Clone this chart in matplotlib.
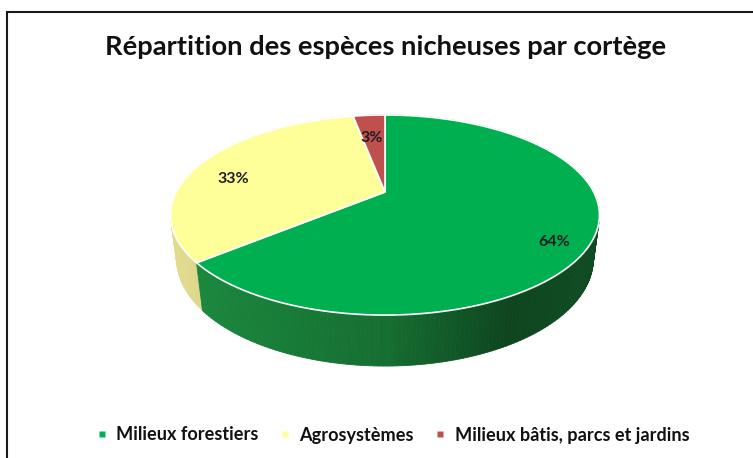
import numpy as np
import matplotlib
matplotlib.use('Agg')
import matplotlib.pyplot as plt
from matplotlib.patches import Polygon, Rectangle
from matplotlib.collections import PolyCollection
from matplotlib.lines import Line2D
from matplotlib.colors import to_rgb

# data
categories = ['Milieux forestiers', 'Agrosystèmes', 'Milieux bâtis, parcs et jardins']
values = [64, 33, 3]
pct_labels = ['64%', '33%', '3%']
top_colors = ['#00B050', '#FFFF99', '#C0504D']
side_colors = ['#1B8A3E', '#E2DC90', '#9E3E3B']
title = 'Répartition des espèces nicheuses par cortège'

# 3d view (excel-like perspective)
ELEV = np.radians(27)
DIST = 3.87
DEPTH = 0.237
SCALE = 208.7          # pixels per unit radius
CX, CY = 385, 192      # pie centre in pixels
W, H = 753, 458


def project(x, y, z):
    c, s = np.cos(ELEV), np.sin(ELEV)
    w = DIST + y * c - z * s
    return x * DIST / w, (y * s + z * c) * DIST / w


def arc(t0, t1, n=120):
    # angles clockwise from 12 o'clock, in degrees
    t = np.radians(np.linspace(t0, t1, n))
    return np.sin(t), np.cos(t)


fig = plt.figure(figsize=(W / 100, H / 100), dpi=100)
ax = fig.add_axes([0, 0, 1, 1])
ax.set_xlim(-CX / SCALE, (W - CX) / SCALE)
ax.set_ylim(-(H - CY) / SCALE, CY / SCALE)
ax.axis('off')

total = float(sum(values))
bounds = np.concatenate([[0], np.cumsum(values) / total * 360])

# side walls, painted far -> near in small segments
segs, cols, keys = [], [], []
for i in range(len(values)):
    t0, t1 = bounds[i], bounds[i + 1]
    n = max(int((t1 - t0) / 1.0), 2)
    ts = np.linspace(t0, t1, n + 1)
    base = np.array(to_rgb(side_colors[i]))
    for a, b in zip(ts[:-1], ts[1:]):
        xa, ya = np.sin(np.radians(a)), np.cos(np.radians(a))
        xb, yb = np.sin(np.radians(b)), np.cos(np.radians(b))
        p = [project(xa, ya, 0), project(xb, yb, 0),
             project(xb, yb, -DEPTH), project(xa, ya, -DEPTH)]
        segs.append(p)
        xm = (p[0][0] + p[1][0]) / 2
        tt = (xm + 1) / 2
        f = np.interp(tt, [0, 0.5, 0.8, 1.0], [1.0, 0.8, 0.5, 0.55])
        cols.append(np.clip(base * f, 0, 1))
        keys.append((ya + yb) / 2)
order = np.argsort(keys)[::-1]
walls = PolyCollection([segs[k] for k in order],
                       facecolors=[cols[k] for k in order],
                       edgecolors=[cols[k] for k in order],
                       linewidths=0.6)
ax.add_collection(walls)

# top faces
for i in range(len(values)):
    xs, ys = arc(bounds[i], bounds[i + 1])
    px, py = project(np.concatenate([[0], xs]), np.concatenate([[0], ys]), 0)
    ax.add_patch(Polygon(np.column_stack([px, py]), closed=True,
                         facecolor=top_colors[i], edgecolor='white',
                         linewidth=1.2, joinstyle='round'))

# percentage labels
for i in range(len(values)):
    mid = np.radians((bounds[i] + bounds[i + 1]) / 2)
    lx, ly = project(0.83 * np.sin(mid), 0.83 * np.cos(mid), -0.07)
    ax.text(lx, ly, pct_labels[i], ha='center', va='center',
            fontsize=11.5, fontweight='bold', family='Lato', color='#1e1e1e')

# title, sized to the reference width
t = fig.text(385.5 / W, 1 - 47 / H, title, ha='center', va='center',
             fontsize=16, fontweight='bold', family='Lato', color='#111111')
r = fig.canvas.get_renderer()
wt = t.get_window_extent(r).width
t.set_fontsize(16 * 565 / wt)

# legend, font fitted so the three labels together match the reference
handles = [Line2D([], [], ls='', marker='s', markersize=4.5,
                  markerfacecolor=top_colors[i], markeredgecolor='none')
           for i in range(len(values))]
probe = [fig.text(0, 0, c, family='Lato', weight='bold', size=11)
         for c in categories]
wsum = sum(p.get_window_extent(r).width for p in probe)
for p in probe:
    p.remove()
leg_size = 11 * 488 / wsum
leg = ax.legend(handles, categories, loc='center', ncol=3, frameon=False,
                bbox_to_anchor=(392 / W, 1 - 435 / H),
                bbox_transform=fig.transFigure,
                prop={'family': 'Lato', 'weight': 'bold', 'size': leg_size},
                handlelength=0.8, handletextpad=0.4, columnspacing=1.05)
for tx in leg.get_texts():
    tx.set_color('#111111')

# chart-area border (only left and top edges fall inside the picture)
fig.add_artist(Rectangle((7 / W, -0.5), 2, 1 - 12 / H + 0.5,
                         transform=fig.transFigure, fill=False,
                         edgecolor='#1a1a1a', linewidth=1.5))

fig.savefig('out.png', dpi=100)
